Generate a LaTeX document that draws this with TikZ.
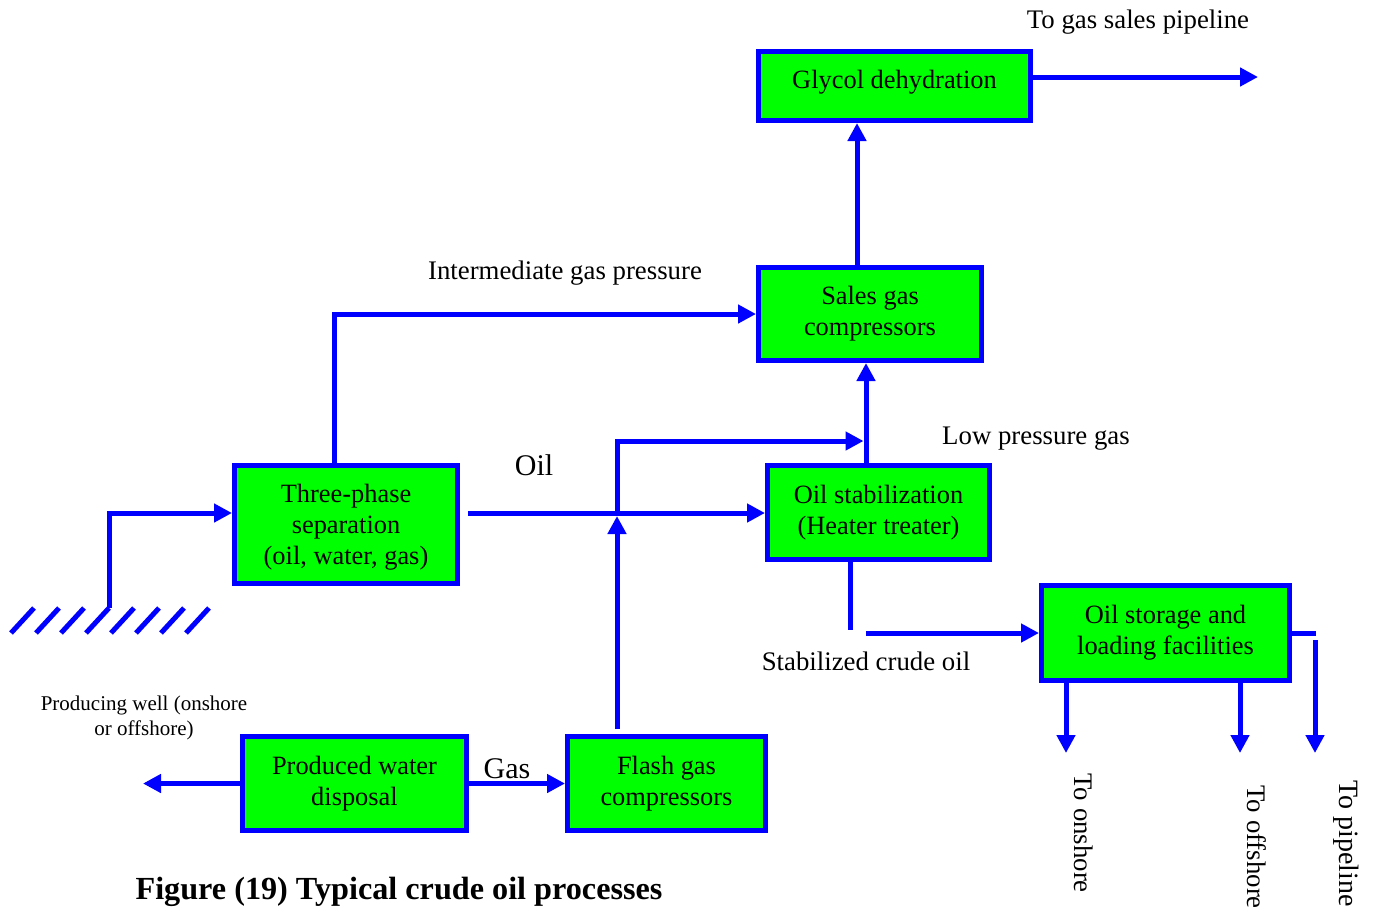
\documentclass[tikz,border=0pt]{standalone}
\usepackage{fontspec}
\setmainfont{Liberation Serif}
\usetikzlibrary{arrows.meta,calc}
\definecolor{flowblue}{RGB}{0,0,255}
\definecolor{procgreen}{RGB}{0,255,0}

\begin{document}
\begin{tikzpicture}[x=0.5pt,y=-0.5pt,
  box/.style={draw=flowblue, line width=2.5pt, fill=procgreen, align=center,
    inner sep=0pt, font=\fontsize{13.2}{15.6}\selectfont},
  flow/.style={draw=flowblue, line width=2.5pt, -{Triangle[length=9pt,width=9pt]}},
  pipe/.style={draw=flowblue, line width=2.5pt},
  lbl/.style={font=\fontsize{13.4}{16}\selectfont, inner sep=0pt},
  biglbl/.style={font=\fontsize{15}{18}\selectfont, inner sep=0pt},
]
\useasboundingbox (0,0) rectangle (1375,911);

% process units
\node[box, minimum width=136pt, minimum height=34.5pt] (glycol) at (894.5,86) {\raisebox{2pt}[\height][\depth]{Glycol dehydration}};
\node[box, minimum width=111.5pt, minimum height=46.5pt] (sales) at (870,314) {Sales gas\\compressors};
\node[box, minimum width=111.5pt, minimum height=59pt] (sep) at (346,524.5) {\raisebox{-1.5pt}[\height][\depth]{\begin{tabular}{@{}c@{}}Three-phase\\separation\\(oil, water, gas)\end{tabular}}};
\node[box, minimum width=111pt, minimum height=47pt] (stab) at (878.5,512.5) {Oil stabilization\\(Heater treater)};
\node[box, minimum width=124pt, minimum height=47.5pt] (store) at (1165.5,633) {Oil storage and\\loading facilities};
\node[box, minimum width=112pt, minimum height=47pt] (water) at (354.5,783.5) {Produced water\\disposal};
\node[box, minimum width=99pt, minimum height=47pt] (flash) at (666.5,783.5) {Flash gas\\compressors};

% wellhead ground hatching
\foreach \k in {0,...,7}
  \draw[pipe] (11+25*\k,633) -- (34+25*\k,608);

% free ends of the lines
\coordinate (wellhead) at (109,608);
\coordinate (oilout) at (468,513);
\coordinate (flashout) at (617,729);
\coordinate (oiljoin) at (617,516);
\coordinate (lpjoin) at (863.5,441);
\coordinate (gasout) at (1258,77);
\coordinate (crudedrop) at (850,630);
\coordinate (crudefeed) at (866,633);
\coordinate (onshore) at (1066,753);
\coordinate (offshore) at (1240,753);
\coordinate (pipebend) at (1316,633);
\coordinate (pipetop) at (1315,640);
\coordinate (pipeline) at (1315,753);
\coordinate (waterout) at (143,783.5);

% flow lines
\draw[flow] (wellhead) |- ($(sep.west)+(0,-11.5)$);
\draw[flow] ($(sep.north)+(-12,0)$) |- (sales.west);
\draw[flow] (oilout) -- (oilout -| stab.west);
\draw[flow] (flashout) -- (oiljoin);
\draw[flow] (oiljoin) |- (lpjoin);
\draw[flow] ($(stab.north)+(-12.5,0)$) -- ($(sales.south)+(-4,0)$);
\draw[flow] ($(sales.north)+(-13,0)$) -- ($(glycol.south)+(-37.5,0)$);
\draw[flow] ($(glycol.east)+(0,-9)$) -- (gasout);
\draw[pipe] ($(stab.south)+(-28.5,0)$) -- (crudedrop);
\draw[flow] (crudefeed) -- (store.west);
\draw[flow] ($(store.south)+(-99.5,0)$) -- (onshore);
\draw[flow] ($(store.south)+(74.5,0)$) -- (offshore);
\draw[pipe] (store.east) -- (pipebend);
\draw[flow] (pipetop) -- (pipeline);
\draw[flow] (water.west) -- (waterout);
\draw[flow] (water.east) -- (flash.west);

% stream labels
\node[lbl] (gaslbl) at (1138,22) {To gas sales pipeline};
\node[lbl] (interlbl) at (565,273) {Intermediate gas pressure};
\node[biglbl] (oillbl) at (534,465) {Oil};
\node[lbl] (lplbl) at (1036,439) {Low pressure gas};
\node[lbl] (crudelbl) at (866,661) {Stabilized crude oil};
\node[inner sep=0pt, align=center, font=\fontsize{10.5}{12.5}\selectfont] (welllbl) at (144,718) {Producing well (onshore\\or offshore)};
\node[biglbl] (gaslabel) at (507,769) {Gas};
\node[lbl, rotate=-90, anchor=west] (onlbl) at (1084,773) {To onshore};
\node[lbl, rotate=-90, anchor=west] (offlbl) at (1257,785) {To offshore};
\node[inner sep=0pt, font=\fontsize{14}{17}\selectfont, rotate=-90, anchor=west] (pipelbl) at (1346,780) {To pipeline};

% caption
\node[inner sep=0pt, font=\bfseries\fontsize{16.1}{20}\selectfont] (title) at (399,892) {Figure (19) Typical crude oil processes};
\end{tikzpicture}
\end{document}
